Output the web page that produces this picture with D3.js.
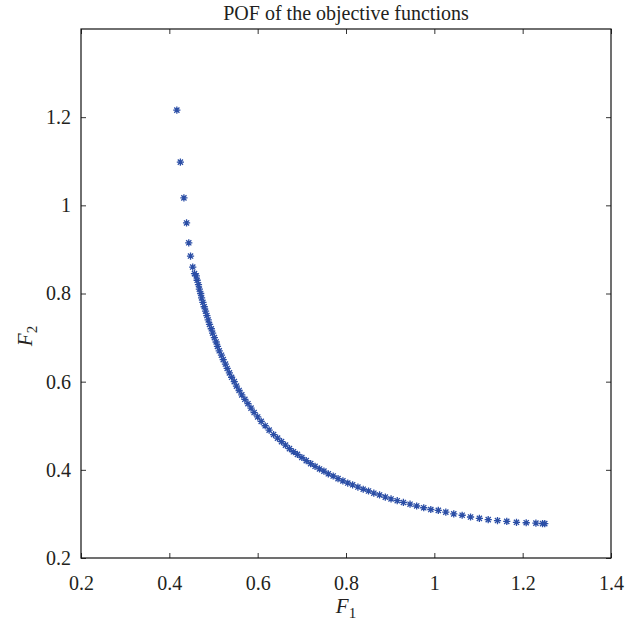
<!DOCTYPE html>
<html>
<head>
<meta charset="utf-8">
<script src="https://cdn.jsdelivr.net/npm/d3@7"></script>
<style>
  body { margin: 0; background: #fff; }
  svg text { font-family: "Liberation Serif", "DejaVu Serif", serif; fill: #231f20; }
</style>
</head>
<body>
<div id="chart"></div>
<script>
// Pareto front points
var f1 = [0.417, 0.425, 0.433, 0.439, 0.444, 0.448, 0.453, 0.457,
  0.461, 0.463, 0.466, 0.468, 0.471, 0.473, 0.476, 0.479, 0.482, 0.485,
  0.488, 0.491, 0.495, 0.498, 0.502, 0.506, 0.509, 0.513, 0.518, 0.522,
  0.527, 0.531, 0.536, 0.541, 0.547, 0.552, 0.558, 0.564, 0.571, 0.578,
  0.585, 0.592, 0.600, 0.608, 0.617, 0.626, 0.636,
  0.645, 0.654, 0.663, 0.672, 0.681, 0.690, 0.700, 0.710, 0.720, 0.730,
  0.740, 0.750, 0.760, 0.771, 0.782, 0.793, 0.804, 0.815, 0.827, 0.839,
  0.851, 0.863, 0.876, 0.889, 0.902, 0.916, 0.930, 0.945, 0.960, 0.976,
  0.992, 1.009, 1.026, 1.044, 1.063, 1.082, 1.102, 1.122, 1.143, 1.164,
  1.186, 1.208, 1.230, 1.245, 1.250]
var f2 = [1.216, 1.098, 1.017, 0.960, 0.915, 0.885, 0.860, 0.845,
  0.840, 0.830, 0.820, 0.810, 0.800, 0.790, 0.780, 0.770, 0.760, 0.750,
  0.740, 0.730, 0.720, 0.710, 0.700, 0.690, 0.680, 0.670, 0.660, 0.650,
  0.640, 0.630, 0.620, 0.610, 0.600, 0.590, 0.580, 0.570, 0.560, 0.550,
  0.540, 0.530, 0.520, 0.510, 0.500, 0.490, 0.480,
  0.472, 0.464, 0.456, 0.448, 0.441, 0.435, 0.428, 0.421, 0.414, 0.408,
  0.402, 0.397, 0.391, 0.386, 0.380, 0.375, 0.370, 0.366, 0.361, 0.356,
  0.352, 0.347, 0.343, 0.338, 0.334, 0.330, 0.326, 0.322, 0.318, 0.314,
  0.310, 0.308, 0.304, 0.300, 0.297, 0.293, 0.290, 0.287, 0.285, 0.283,
  0.281, 0.280, 0.279, 0.278, 0.278]
var xTicks = [0.2, 0.4, 0.6, 0.8, 1, 1.2, 1.4]
var yTicks = [0.2, 0.4, 0.6, 0.8, 1, 1.2]

var W = 637, H = 623
var margin = {top: 29, right: 26, bottom: 65, left: 81},
    width = W - margin.left - margin.right,
    height = H - margin.top - margin.bottom;

var svg = d3.select("#chart").append("svg")
    .attr("width", W)
    .attr("height", H)

var g = svg.append("g")
    .attr("transform", "translate(" + margin.left + "," + margin.top + ")");

var x = d3.scaleLinear().domain([0.2, 1.4]).range([0, width])
var y = d3.scaleLinear().domain([0.2, 1.4]).range([height, 0])

var fmt = function(d) { return d3.format("")(+d.toFixed(1)) }

// axes, ticks pointing inward like matlab
g.append("g")
    .attr("transform", "translate(0," + height + ")")
    .call(d3.axisBottom(x).tickValues(xTicks).tickSize(-5).tickPadding(18).tickFormat(fmt))
g.append("g")
    .call(d3.axisLeft(y).tickValues(yTicks).tickSize(-5).tickPadding(10).tickFormat(fmt))
g.append("g")
    .call(d3.axisTop(x).tickValues(xTicks).tickSize(-5).tickFormat(""))
g.append("g")
    .attr("transform", "translate(" + width + ",0)")
    .call(d3.axisRight(y).tickValues(yTicks).tickSize(-5).tickFormat(""))

g.selectAll(".domain").remove()
g.selectAll(".tick line").attr("stroke", "#333").attr("stroke-width", 1)
g.selectAll(".tick text").attr("font-size", "20px").attr("fill", "#231f20")

g.append("rect")
    .attr("width", width)
    .attr("height", height)
    .attr("fill", "none")
    .attr("stroke", "#111")
    .attr("stroke-width", 1.2)

// asterisk markers
var pts = f1.map(function(d, i) { return {f1: d, f2: f2[i]} })
var r = 3.6
var star = "M" + (-r) + ",0L" + r + ",0M0," + (-r) + "L0," + r +
    "M" + (-r * 0.72) + "," + (-r * 0.72) + "L" + (r * 0.72) + "," + (r * 0.72) +
    "M" + (-r * 0.72) + "," + (r * 0.72) + "L" + (r * 0.72) + "," + (-r * 0.72)

g.selectAll("path.pt")
    .data(pts)
    .enter()
    .append("path")
    .attr("class", "pt")
    .attr("transform", function(d) { return "translate(" + x(d.f1) + "," + y(d.f2) + ")" })
    .attr("d", star)
    .attr("fill", "none")
    .attr("stroke", "#2b4ea6")
    .attr("stroke-width", 1.3)

// title and labels
svg.append("text")
    .attr("x", margin.left + width / 2)
    .attr("y", 20)
    .attr("text-anchor", "middle")
    .attr("font-size", "20px")
    .text("POF of the objective functions")

var xl = svg.append("text")
    .attr("x", margin.left + width / 2)
    .attr("y", 613)
    .attr("text-anchor", "middle")
    .attr("font-size", "21px")
xl.append("tspan").attr("font-style", "italic").text("F")
xl.append("tspan").attr("font-size", "15px").attr("dy", 5).text("1")

var yl = svg.append("text")
    .attr("transform", "translate(32,336) rotate(-90)")
    .attr("text-anchor", "middle")
    .attr("font-size", "21px")
yl.append("tspan").attr("font-style", "italic").text("F")
yl.append("tspan").attr("font-size", "15px").attr("dy", 5).text("2")
</script>
</body>
</html>
